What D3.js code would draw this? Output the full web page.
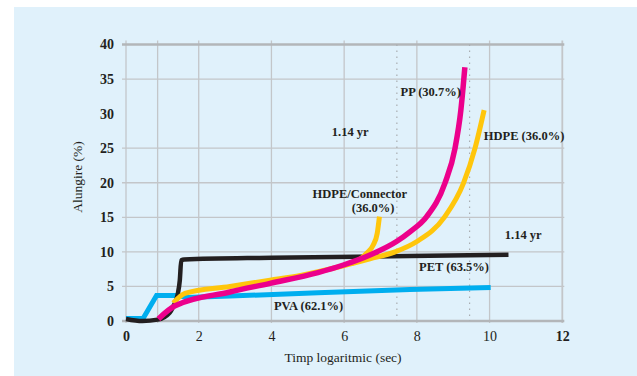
<!DOCTYPE html>
<html>
<head>
<meta charset="utf-8">
<script src="https://cdn.jsdelivr.net/npm/d3@7"></script>
<style>
  body { margin: 0; background: #fff; }
  text { font-family: "Liberation Serif", "DejaVu Serif", serif; fill: #231f20; }
</style>
</head>
<body>
<div id="plot"></div>
<script>
// tick values and grid positions
let xTicks = [0, 2, 4, 6, 8, 10, 12];
let yTicks = [0, 5, 10, 15, 20, 25, 30, 35, 40];
let xGrid = [0, 0.87, 2, 4, 6, 8, 10, 12];
let yGrid = [5, 10, 15, 20, 25, 35];
let xDotted = [7.45, 9.45];

// series: [log time, elongation %]
let pvaData = [[0, 0.35], [0.47, 0.35], [0.84, 3.7], [1.43, 3.7], [1.65, 3.4], [2.86, 3.6], [5.28, 4.1], [7.81, 4.55], [10.03, 4.85]];
let petData = [[0, 0.3], [0.45, 0.0], [0.87, 0.2], [1.2, 1.2], [1.3, 2.1], [1.42, 3.8], [1.48, 5.9], [1.52, 8.8], [1.6, 8.9], [4, 9.15], [7.8, 9.4], [10.52, 9.6]];
let ppData = [[0.89, 0.3], [1.35, 2.2], [2.86, 4.2], [3.96, 5.45], [5.28, 7.0], [5.98, 8.1], [6.71, 9.55], [7.44, 11.5], [7.81, 12.9], [8.27, 15.1], [8.77, 19.9], [9.05, 25], [9.21, 30.5], [9.32, 36.7]];
let hdpeData = [[1.3, 2.6], [1.62, 4.0], [2.86, 5.0], [3.96, 5.9], [4.8, 6.6], [5.98, 8.0], [6.71, 9.0], [7.4, 10.0], [8.0, 11.5], [8.77, 15.1], [9.28, 19.9], [9.6, 25], [9.85, 30.5]];
let connectorData = [[6.2, 8.3], [6.45, 9.0], [6.62, 9.8], [6.8, 11.0], [6.91, 12.7], [6.97, 15.1]];

// annotations: [text, x, y]
let labels = [
    ['PP (30.7%)', 7.55, 32.6],
    ['1.14 yr', 5.66, 26.8],
    ['HDPE (36.0%)', 9.84, 26.2],
    ['HDPE/Connector', 5.13, 17.8],
    ['(36.0%)', 6.21, 15.8],
    ['1.14 yr', 10.42, 11.9],
    ['PET (63.5%)', 8.06, 7.2],
    ['PVA (62.1%)', 4.07, 1.6]
];

let svgWidth = 637;
let svgHeight = 376;

let $svg = d3.select('#plot')
    .append('svg')
    .attr('width', svgWidth)
    .attr('height', svgHeight);

// light blue panel
$svg.append('rect')
    .attr('x', 14)
    .attr('y', 7)
    .attr('width', svgWidth - 14)
    .attr('height', svgHeight - 7)
    .attr('fill', '#e0f1fb');

let xScale = d3.scaleLinear().domain([0, 12]).range([126, 562.3]);
let yScale = d3.scaleLinear().domain([0, 40]).range([321, 44.5]);

let $grid = $svg.append('g');

// vertical grid
$grid.selectAll('.vgrid')
    .data(xGrid)
    .enter()
    .append('line')
    .attr('x1', d => xScale(d))
    .attr('x2', d => xScale(d))
    .attr('y1', yScale(40) - 4)
    .attr('y2', yScale(0) + 2)
    .attr('stroke', '#c3c6c9')
    .attr('stroke-width', d => d === 12 ? 1.8 : 1.3);

// horizontal grid
$grid.selectAll('.hgrid')
    .data(yGrid)
    .enter()
    .append('line')
    .attr('x1', xScale(0) - 4)
    .attr('x2', xScale(12) + 2)
    .attr('y1', d => yScale(d))
    .attr('y2', d => yScale(d))
    .attr('stroke', '#c3c6c9')
    .attr('stroke-width', 1.3);

// heavier top and bottom lines
$grid.selectAll('.frame')
    .data([0, 40])
    .enter()
    .append('line')
    .attr('x1', xScale(0) - 4)
    .attr('x2', xScale(12) + 2)
    .attr('y1', d => yScale(d))
    .attr('y2', d => yScale(d))
    .attr('stroke', '#b3b6b9')
    .attr('stroke-width', 2.6);

// dotted markers
$grid.selectAll('.dotted')
    .data(xDotted)
    .enter()
    .append('line')
    .attr('x1', d => xScale(d))
    .attr('x2', d => xScale(d))
    .attr('y1', yScale(40))
    .attr('y2', yScale(0))
    .attr('stroke', '#a9adb1')
    .attr('stroke-width', 1.2)
    .attr('stroke-dasharray', '1.5,4.5');

// axes (labels only)
let leftAxis = d3.axisLeft(yScale).tickValues(yTicks).tickSize(0).tickPadding(12);
let bottomAxis = d3.axisBottom(xScale).tickValues(xTicks).tickSize(0).tickPadding(10);

$svg.append('g')
    .attr('id', 'y-axis')
    .attr('transform', `translate(${xScale(0)}, 0)`)
    .call(leftAxis)
    .call(g => g.select('.domain').remove())
    .selectAll('text')
    .attr('font-size', 14)
    .attr('font-weight', 'bold')
    .attr('font-family', '"Liberation Serif", serif')
    .attr('fill', '#231f20');

$svg.append('g')
    .attr('id', 'x-axis')
    .attr('transform', `translate(0, ${yScale(0)})`)
    .call(bottomAxis)
    .call(g => g.select('.domain').remove())
    .selectAll('text')
    .attr('font-size', 14)
    .attr('font-weight', d => (d === 0 || d === 12) ? 'bold' : 'normal')
    .attr('font-family', '"Liberation Serif", serif')
    .attr('fill', '#231f20');

// axis titles
$svg.append('text')
    .attr('x', 343)
    .attr('y', 362)
    .attr('text-anchor', 'middle')
    .attr('font-size', 13.5)
    .text('Timp logaritmic (sec)');

$svg.append('text')
    .attr('transform', 'translate(82, 177) rotate(-90)')
    .attr('text-anchor', 'middle')
    .attr('font-size', 13.5)
    .text('Alungire (%)');

// series lines
let smoothLine = d3.line()
    .x(d => xScale(d[0]))
    .y(d => yScale(d[1]))
    .curve(d3.curveMonotoneX);

let straightLine = d3.line()
    .x(d => xScale(d[0]))
    .y(d => yScale(d[1]));

let $lines = $svg.append('g')
    .attr('fill', 'none')
    .attr('stroke-linejoin', 'miter');

$lines.append('path')
    .attr('d', straightLine(pvaData))
    .attr('stroke', '#00aeef')
    .attr('stroke-width', 5);

$lines.append('path')
    .attr('d', smoothLine(petData))
    .attr('stroke', '#231f20')
    .attr('stroke-width', 4.5);

$lines.append('path')
    .attr('d', smoothLine(connectorData))
    .attr('stroke', '#ffc60b')
    .attr('stroke-width', 5);

$lines.append('path')
    .attr('d', smoothLine(hdpeData))
    .attr('stroke', '#ffc60b')
    .attr('stroke-width', 5);

$lines.append('path')
    .attr('d', smoothLine(ppData))
    .attr('stroke', '#ec008c')
    .attr('stroke-width', 5.5);

// annotations
$svg.append('g')
    .selectAll('text')
    .data(labels)
    .enter()
    .append('text')
    .attr('x', d => xScale(d[1]))
    .attr('y', d => yScale(d[2]))
    .attr('font-size', 12.5)
    .attr('font-weight', 'bold')
    .text(d => d[0]);
</script>
</body>
</html>
